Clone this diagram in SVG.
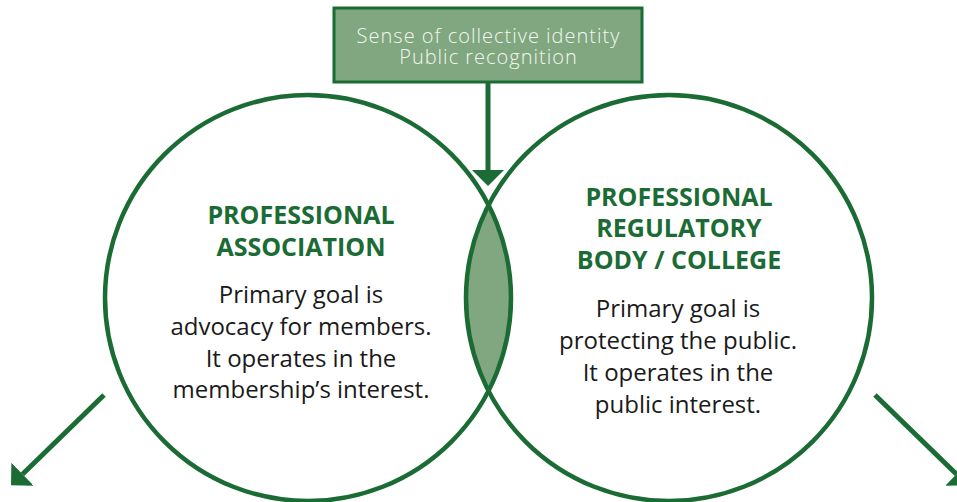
<svg xmlns="http://www.w3.org/2000/svg" width="957" height="502" viewBox="0 0 957 502">
  <defs>
    <style>
      .ring { fill: none; stroke: #1b6b35; stroke-width: 4.5; }
      .box { fill: #80a77f; stroke: #1b6b35; stroke-width: 3; }
      .link { stroke: #1b6b35; stroke-width: 5; fill: none; }
      .title { font-family: "Open Sans", "Liberation Sans", sans-serif; font-weight: 700; font-size: 25px; fill: #1b6b35; text-anchor: middle; }
      .body { font-family: "Open Sans", "Liberation Sans", sans-serif; font-weight: 400; font-size: 24px; fill: #1a1a1a; text-anchor: middle; }
      .boxtext { font-family: "Open Sans", "Liberation Sans", sans-serif; font-weight: 300; font-size: 20px; letter-spacing: 1px; fill: #f4f7f2; text-anchor: middle; }
    </style>
    <marker id="head" viewBox="0 0 16 32" refX="0" refY="16" markerWidth="16" markerHeight="32" markerUnits="userSpaceOnUse" orient="auto">
      <path d="M0,0 L16,16 L0,32 Z" fill="#1b6b35"/>
    </marker>
    <clipPath id="leftClip">
      <circle cx="308" cy="298" r="203"/>
    </clipPath>
  </defs>

  <!-- overlap of the two circles -->
  <g id="overlap">
    <circle cx="669" cy="298" r="203" fill="#80a77f" clip-path="url(#leftClip)"/>
  </g>

  <!-- professional association -->
  <g id="association">
    <circle class="ring" cx="308" cy="298" r="203"/>
    <text class="title" x="301" y="224">PROFESSIONAL</text>
    <text class="title" x="301" y="256">ASSOCIATION</text>
    <text class="body" x="301" y="303">Primary goal is</text>
    <text class="body" x="301" y="335">advocacy for members.</text>
    <text class="body" x="301" y="367">It operates in the</text>
    <text class="body" x="301" y="398">membership’s interest.</text>
  </g>

  <!-- regulatory body -->
  <g id="regulator">
    <circle class="ring" cx="669" cy="298" r="203"/>
    <text class="title" x="679" y="206">PROFESSIONAL</text>
    <text class="title" x="679" y="237">REGULATORY</text>
    <text class="title" x="679" y="269">BODY / COLLEGE</text>
    <text class="body" x="678" y="317">Primary goal is</text>
    <text class="body" x="678" y="349">protecting the public.</text>
    <text class="body" x="678" y="381">It operates in the</text>
    <text class="body" x="678" y="413">public interest.</text>
  </g>

  <!-- shared outcomes: one two-line label -->
  <g id="shared">
    <rect class="box" x="334" y="8" width="308" height="74"/>
    <text class="boxtext"><tspan x="488.5" y="42.5">Sense of collective identity</tspan><tspan x="488.5" y="63.5">Public recognition</tspan></text>
  </g>

  <!-- connectors -->
  <g id="connectors">
    <line class="link" x1="488" y1="82" x2="488" y2="170" marker-end="url(#head)"/>
    <line class="link" x1="104" y1="395" x2="22.5" y2="474.2" marker-end="url(#head)"/>
    <line class="link" x1="875" y1="395" x2="956.5" y2="474.2" marker-end="url(#head)"/>
  </g>
</svg>
